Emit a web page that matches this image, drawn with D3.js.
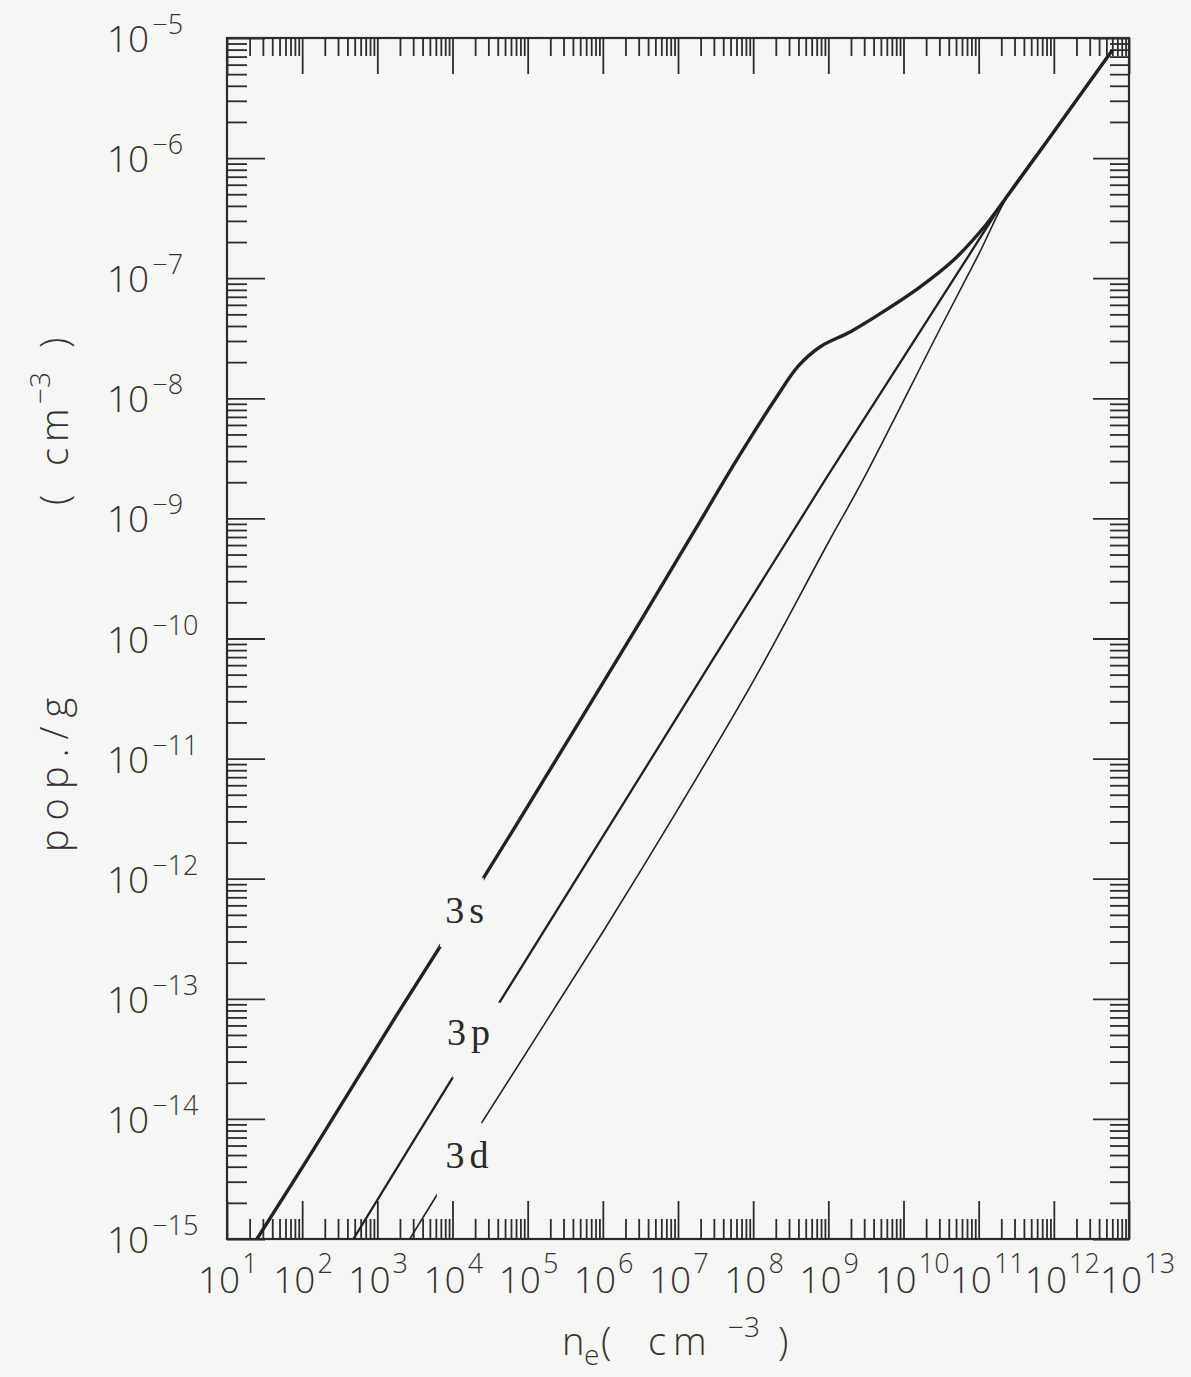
<!DOCTYPE html>
<html><head><meta charset="utf-8">
<script src="https://cdn.jsdelivr.net/npm/d3@7"></script>
<style>
html,body{margin:0;padding:0;background:#f6f6f4;}
svg{display:block;}
</style></head><body>
<svg id="chart" width="1191" height="1377"></svg>
<script>
// ---------- data ----------
const xTickExponents = [1,2,3,4,5,6,7,8,9,10,11,12,13];
const yTickExponents = [-5,-6,-7,-8,-9,-10,-11,-12,-13,-14,-15];

const ne3s  = [2.5e1, 1.4e2, 2.0e3, 2.6e4, 3.2e5, 3.2e6, 1.6e7, 6.3e7, 2.0e8, 4.0e8, 7.9e8, 2.0e9, 6.3e9, 1.6e10, 4.6e10, 1.26e11, 2.5e11, 1.0e12, 6.0e12];
const pop3s = [1.0e-15, 5.5e-15, 8.1e-14, 1.02e-12, 1.32e-11, 1.41e-10, 7.6e-10, 3.2e-9, 1.0e-8, 1.86e-8, 2.7e-8, 3.6e-8, 5.6e-8, 8.3e-8, 1.41e-7, 2.8e-7, 5.0e-7, 1.66e-6, 7.9e-6];

const ne3p  = [4.8e2, 1.0e4, 1.38e6, 9.1e8, 6.3e10, 2.5e11, 1.0e12, 6.0e12];
const pop3p = [1.0e-15, 2.2e-14, 3.1e-12, 2.1e-9, 1.32e-7, 5.0e-7, 1.66e-6, 7.9e-6];

const ne3d  = [2.7e3, 2.45e4, 1.0e6, 1.0e7, 1.0e8, 1.0e9, 2.9e9, 3.2e10, 1.0e11, 2.5e11, 1.0e12, 6.0e12];
const pop3d = [1.0e-15, 9.3e-15, 3.6e-13, 3.8e-12, 4.4e-11, 6.3e-10, 2.1e-9, 4.0e-8, 1.58e-7, 5.0e-7, 1.66e-6, 7.9e-6];

const seriesNames = ["3s", "3p", "3d"];
// label gaps (where the curve is interrupted for its label), in data units
const gapNe  = [[6.8e3, 2.6e4], [1.0e4, 4.3e4], [6.2e3, 2.45e4]];
const gapPop = [[2.7e-13, 1.02e-12], [2.2e-14, 9.3e-14], [2.2e-15, 9.3e-15]];
// label anchor (centre) in data units
const labelNe  = [1.47e4, 1.66e4, 1.58e4];
const labelPop = [5.6e-13, 5.4e-14, 5.1e-15];

// ---------- layout ----------
const svg = d3.select("#chart");
const W = 1191, H = 1377;
const L = 227, R = 1129, T = 38, B = 1239;
const ink = "#2c2c2c";
const fontSans = "'Open Sans', 'Liberation Sans', 'DejaVu Sans', sans-serif";

svg.append("rect").attr("width", W).attr("height", H).attr("fill", "#f6f6f4");

const x = d3.scaleLog().domain([1e1, 1e13]).range([L, R]);
const y = d3.scaleLog().domain([1e-15, 1e-5]).range([B, T]);

const majorX = xTickExponents.map(e => Math.pow(10, e));
const majorY = yTickExponents.map(e => Math.pow(10, e));
const minorX = [], minorY = [];
for (let e = 1; e < 13; e++) for (let k = 2; k <= 9; k++) minorX.push(k * Math.pow(10, e));
for (let e = -15; e < -5; e++) for (let k = 2; k <= 9; k++) minorY.push(k * Math.pow(10, e));

function styleAxis(g) {
  g.select(".domain").remove();
  g.selectAll(".tick line").attr("stroke", ink).attr("stroke-width", 1.8);
  g.selectAll(".tick text").remove();
}
const axes = svg.append("g");
axes.append("g").attr("transform", `translate(0,${B})`).call(d3.axisBottom(x).tickValues(majorX).tickSize(-38).tickFormat("")).call(styleAxis);
axes.append("g").attr("transform", `translate(0,${B})`).call(d3.axisBottom(x).tickValues(minorX).tickSize(-20).tickFormat("")).call(styleAxis);
axes.append("g").attr("transform", `translate(0,${T})`).call(d3.axisTop(x).tickValues(majorX).tickSize(-36).tickFormat("")).call(styleAxis);
axes.append("g").attr("transform", `translate(0,${T})`).call(d3.axisTop(x).tickValues(minorX).tickSize(-18).tickFormat("")).call(styleAxis);
axes.append("g").attr("transform", `translate(${L},0)`).call(d3.axisLeft(y).tickValues(majorY).tickSize(-38).tickFormat("")).call(styleAxis);
axes.append("g").attr("transform", `translate(${L},0)`).call(d3.axisLeft(y).tickValues(minorY).tickSize(-20).tickFormat("")).call(styleAxis);
axes.append("g").attr("transform", `translate(${R},0)`).call(d3.axisRight(y).tickValues(majorY).tickSize(-36).tickFormat("")).call(styleAxis);
axes.append("g").attr("transform", `translate(${R},0)`).call(d3.axisRight(y).tickValues(minorY).tickSize(-19).tickFormat("")).call(styleAxis);

svg.append("rect").attr("x", L).attr("y", T).attr("width", R - L).attr("height", B - T)
  .attr("fill", "none").attr("stroke", ink).attr("stroke-width", 2.2);

// ---------- tick labels ----------
const xl = svg.append("g").attr("font-family", fontSans).attr("fill", "#333").attr("font-weight", 300);
xTickExponents.forEach(e => {
  const t = xl.append("text").attr("x", x(Math.pow(10, e)) - 29).attr("y", 1293).attr("font-size", 37).text("10");
  t.append("tspan").attr("dx", 2).attr("dy", -20).attr("font-size", 27).text(String(e));
});
const yl = svg.append("g").attr("font-family", fontSans).attr("fill", "#333").attr("font-weight", 300);
yTickExponents.forEach(e => {
  const t = yl.append("text").attr("x", 107).attr("y", y(Math.pow(10, e)) + 14).attr("font-size", 37).text("10");
  t.append("tspan").attr("dx", 3).attr("dy", -18).attr("font-size", 27).text("\u2212" + Math.abs(e));
});

// ---------- axis titles ----------
const xt = svg.append("text").attr("font-family", fontSans).attr("font-weight", 300).attr("fill", "#333").attr("font-size", 38).attr("y", 1355);
xt.append("tspan").attr("x", 562).text("n");
xt.append("tspan").attr("x", 584).attr("dy", 10).attr("font-size", 28).text("e");
xt.append("tspan").attr("x", 601).attr("dy", -10).text("(");
xt.append("tspan").attr("x", 648).text("c");
xt.append("tspan").attr("x", 673).text("m");
xt.append("tspan").attr("x", 728).attr("dy", -18).attr("font-size", 28).text("\u22123");
xt.append("tspan").attr("x", 778).attr("dy", 18).text(")");

const yt = svg.append("g").attr("transform", "translate(68,0) rotate(-90)")
  .attr("font-family", fontSans).attr("font-weight", 300).attr("fill", "#333").attr("font-size", 38);
yt.append("text").attr("x", -852).attr("y", 0).attr("letter-spacing", 9).text("pop./g");
const yt2 = yt.append("text").attr("x", -505).attr("y", 0);
yt2.append("tspan").text("(");
yt2.append("tspan").attr("x", -466).text("c");
yt2.append("tspan").attr("x", -442).text("m");
yt2.append("tspan").attr("x", -404).attr("dy", -18).attr("font-size", 28).text("\u22123");
yt2.append("tspan").attr("x", -348).attr("dy", 18).text(")");

// ---------- curves ----------
const defs = svg.append("defs");
defs.append("clipPath").attr("id", "plotclip").append("rect")
  .attr("x", L).attr("y", T).attr("width", R - L).attr("height", B - T);
const mask = defs.append("mask").attr("id", "gapmask").attr("maskUnits", "userSpaceOnUse")
  .attr("x", 0).attr("y", 0).attr("width", W).attr("height", H);
mask.append("rect").attr("width", W).attr("height", H).attr("fill", "white");
gapNe.forEach((g, i) => {
  mask.append("rect")
    .attr("x", x(g[0])).attr("width", x(g[1]) - x(g[0]))
    .attr("y", y(gapPop[i][1])).attr("height", y(gapPop[i][0]) - y(gapPop[i][1]))
    .attr("fill", "black");
});

const series = [
  {ne: ne3s, pop: pop3s, w: 3.4},
  {ne: ne3p, pop: pop3p, w: 2.3},
  {ne: ne3d, pop: pop3d, w: 1.6}
];
const line = d3.line().x(d => x(d[0])).y(d => y(d[1])).curve(d3.curveCatmullRom.alpha(0.5));
const lg = svg.append("g").attr("clip-path", "url(#plotclip)").append("g").attr("mask", "url(#gapmask)");
series.forEach(s => {
  lg.append("path").datum(s.ne.map((v, i) => [v, s.pop[i]]))
    .attr("d", line).attr("fill", "none").attr("stroke", "#222")
    .attr("stroke-width", s.w).attr("stroke-linejoin", "round").attr("stroke-linecap", "butt");
});

// ---------- curve labels ----------
const cl = svg.append("g").attr("font-family", "'Liberation Serif', 'DejaVu Serif', serif").attr("fill", "#2a2a2a").attr("font-size", 38);
seriesNames.forEach((nm, i) => {
  cl.append("text").attr("x", x(labelNe[i]) + 2).attr("y", y(labelPop[i]) + 14)
    .attr("text-anchor", "middle").attr("letter-spacing", 5).text(nm);
});
</script>
</body></html>
